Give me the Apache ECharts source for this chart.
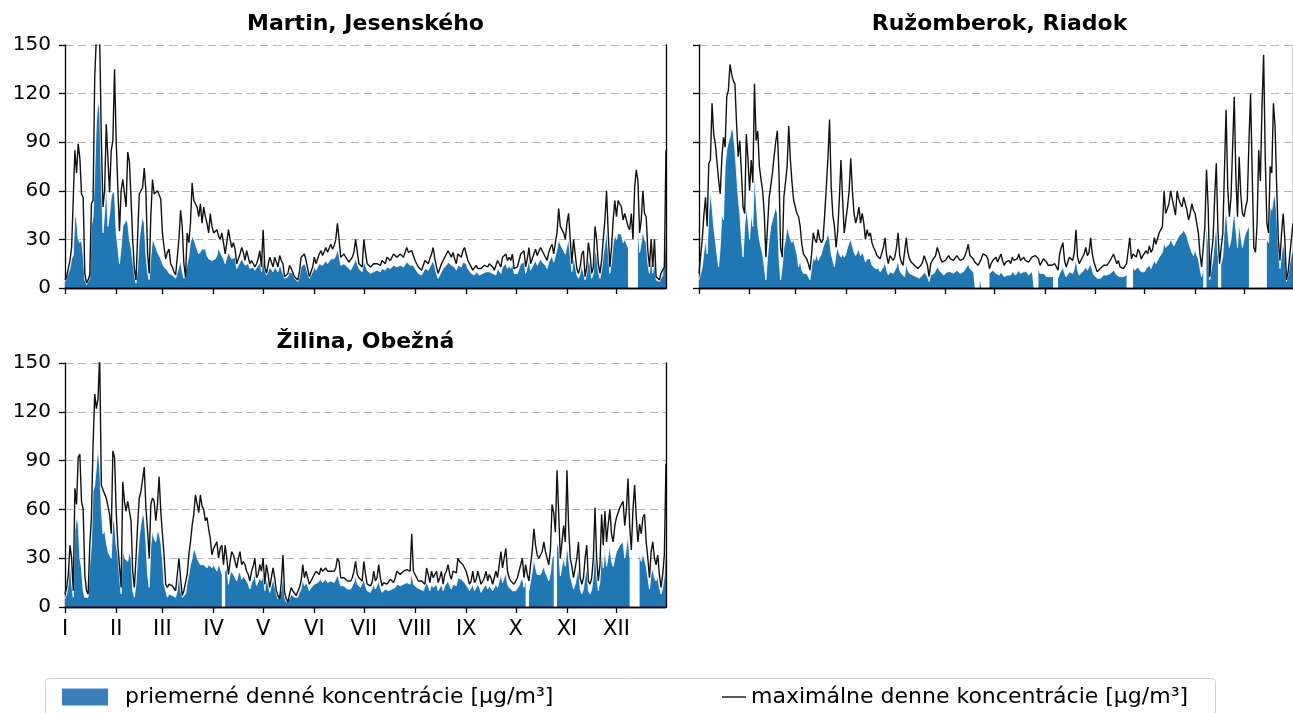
<!DOCTYPE html>
<html>
<head>
<meta charset="utf-8">
<script src="https://cdn.jsdelivr.net/npm/echarts@6/dist/echarts.min.js"></script>
<style>
html,body{margin:0;padding:0;background:#fff;}
#chart{width:1293px;height:713px;}
</style>
</head>
<body>
<div id="chart"></div>
<script>
// ---------- DATA ----------
const stationNames = ['Martin, Jesenského', 'Ružomberok, Riadok', 'Žilina, Obežná'];
const monthLabels = ['I','II','III','IV','V','VI','VII','VIII','IX','X','XI','XII'];
const monthStartDays = [0,31,59,90,120,151,181,212,243,273,304,334];
const yTicks = [0,30,60,90,120,150];
const MEAN_NAME = 'priemerné denné koncentrácie [µg/m³]';
const MAX_NAME = 'maximálne denne koncentrácie [µg/m³]';

// Martin, Jesenského
const martinMean = [
 4,5,9,12,18,20,46,42,30,28,30,20,5,2,3,6,38,44,71,102,116,110,66,34,46,66,38,45,56,60,58,
 34,25,15,25,38,38,42,40,30,25,17,8,3,13,30,38,44,40,21,10,5,19,30,28,25,22,21,18,
 15,13,12,11,9,9,8,7,6,5,13,17,10,6,5,15,20,28,32,30,27,24,21,22,24,25,24,20,18,17,17,
 17,18,20,25,22,20,18,15,19,22,21,18,17,19,12,14,16,18,17,14,15,15,12,13,13,11,12,14,16,10,
 20,11,8,10,13,12,10,13,12,10,14,12,11,6,6,7,10,9,9,6,5,4,7,13,14,15,13,9,6,8,10,
 13,11,13,15,16,14,15,17,15,15,18,17,18,20,24,20,14,15,15,14,13,12,11,13,15,18,19,12,11,10,
 17,14,11,10,9,10,10,10,11,11,10,12,11,11,13,12,12,11,14,13,13,12,14,13,13,12,16,15,14,15,14,
 12,11,9,8,8,10,12,11,11,13,15,17,13,9,6,8,10,12,13,14,16,15,14,15,13,11,14,14,13,16,17,
 15,12,11,9,8,8,10,9,8,9,9,10,10,9,10,10,9,8,8,12,11,9,13,14,15,12,14,12,15,9,
 8,9,12,15,15,16,9,13,17,11,13,15,17,14,14,18,16,15,14,12,16,18,20,16,20,24,30,27,25,24,21,
 26,30,20,10,19,14,8,6,9,14,15,5,9,18,14,6,9,24,20,10,6,11,20,27,36,22,9,16,27,33,
 30,34,35,33,28,30,30,25,null,null,null,null,null,38,22,28,36,30,28,15,9,19,9,18,5,4,4,6,8,9,30
];
const martinMax = [
 5,7,12,17,25,25,85,71,89,80,58,56,9,3,5,8,52,54,130,155,160,155,92,50,60,101,100,59,85,91,135,
 91,62,35,60,67,66,50,84,78,55,30,12,5,32,58,57,62,74,60,22,9,45,67,58,57,60,60,55,
 34,25,18,22,24,15,13,10,8,7,30,48,38,15,7,34,28,40,65,54,52,50,44,52,40,50,44,40,34,46,38,
 34,35,36,32,30,34,28,21,28,36,30,25,28,24,15,18,21,25,22,17,23,19,15,17,16,13,15,18,23,13,
 36,13,9,14,19,16,13,19,16,13,20,17,15,7,8,9,14,12,11,7,6,5,10,19,20,21,17,12,7,10,13,
 19,15,18,21,23,20,21,25,22,21,27,24,26,30,40,30,19,20,21,19,18,16,15,19,22,30,31,15,15,13,
 30,22,15,14,13,14,15,14,15,16,14,17,16,15,19,18,17,16,21,20,19,18,21,20,19,18,25,22,21,23,20,
 17,15,13,12,11,14,17,16,15,18,21,25,18,13,9,12,15,17,19,21,23,21,19,22,18,15,21,20,19,23,25,
 21,17,15,13,11,12,14,12,11,12,13,14,14,13,15,14,13,11,12,17,15,13,19,20,21,17,19,17,21,12,
 11,13,17,21,21,23,13,18,25,15,18,21,24,20,19,25,23,21,19,17,22,25,27,21,28,34,49,38,36,34,30,
 40,46,30,15,30,21,12,9,13,21,23,7,13,28,21,9,13,38,30,15,9,17,30,42,60,34,13,25,42,54,
 44,54,54,50,42,46,46,38,36,46,30,62,73,66,34,42,60,46,44,23,13,30,13,30,7,6,5,9,11,13,85
];

// Ružomberok, Riadok
const ruzomberokMean = [
 5,9,13,22,30,21,46,60,50,38,38,21,13,25,46,42,75,85,90,93,99,96,85,71,56,46,30,19,38,50,42,
 30,46,38,71,54,38,30,25,21,13,5,19,30,38,42,46,50,46,19,5,13,25,30,38,38,30,28,30,
 25,21,13,17,11,9,9,9,7,5,13,19,17,21,17,19,21,25,28,30,34,30,21,17,13,21,25,21,19,21,19,
 21,25,28,30,26,22,20,22,24,20,22,20,16,18,17,18,14,13,12,11,12,10,9,13,16,11,8,10,11,9,
 10,13,17,11,9,8,7,15,11,9,8,8,7,7,6,6,7,8,10,9,7,4,8,9,9,11,13,12,10,9,8,
 9,10,11,10,10,9,10,11,10,9,9,10,11,13,15,12,11,10,9,null,null,5,6,null,null,null,null,9,10,11,
 10,9,8,8,10,9,7,8,8,9,8,10,9,8,9,11,9,8,10,9,10,8,9,10,9,null,null,12,9,8,9,
 8,7,7,7,7,7,null,null,6,9,11,13,9,7,8,10,10,9,12,18,11,8,9,10,11,13,11,12,15,11,8,
 7,6,5,6,7,8,8,8,7,9,10,11,10,8,9,7,8,7,6,8,null,null,null,13,11,10,13,12,10,11,
 10,12,11,14,12,13,17,15,14,19,20,22,28,25,24,27,30,28,26,25,30,32,33,34,36,35,32,28,25,22,20,
 24,20,18,12,7,12,null,38,28,5,12,18,30,40,20,null,15,20,38,50,35,25,30,40,48,36,25,40,32,25,
 30,34,36,38,null,null,null,null,null,null,null,null,null,null,30,28,50,48,55,58,45,25,12,20,28,22,4,8,15,20,25
];
const ruzomberokMax = [
 9,20,30,45,56,38,77,79,114,95,89,89,67,58,80,93,87,118,122,138,132,128,126,102,81,91,71,50,46,95,80,
 60,79,65,126,91,97,75,67,60,46,19,38,56,63,71,81,90,97,71,25,19,56,65,75,100,79,65,54,
 50,46,44,38,27,21,21,18,15,11,21,34,30,28,36,30,28,30,45,62,80,104,63,45,38,25,35,55,79,55,34,
 42,50,60,80,60,46,40,44,50,40,46,40,30,36,32,34,28,25,23,20,21,18,17,25,31,20,15,20,21,17,
 19,25,34,20,16,14,13,31,22,18,16,15,14,13,12,11,14,16,20,17,14,7,15,17,16,20,25,22,18,16,15,
 17,18,20,18,19,17,18,20,19,17,16,18,20,23,27,20,19,18,16,15,14,16,18,21,22,20,18,12,15,17,
 18,19,16,15,21,17,14,16,15,17,15,19,17,16,18,21,17,16,19,17,18,16,17,19,18,20,21,18,14,16,18,
 17,16,14,15,14,13,15,13,11,21,25,28,17,13,16,19,18,17,22,36,19,15,17,18,21,25,20,22,31,21,16,
 13,10,9,12,13,14,15,14,13,17,19,21,18,15,17,13,14,12,11,15,23,31,18,21,20,19,24,22,18,20,
 19,23,21,26,22,24,31,27,26,34,35,38,60,46,45,52,60,55,50,45,60,55,52,50,56,52,48,42,46,52,48,
 46,40,34,21,13,25,38,73,50,7,21,30,56,77,36,15,25,34,73,110,62,44,56,87,118,68,44,81,58,46,
 44,50,54,90,120,71,25,22,40,85,66,112,144,80,40,34,75,71,114,100,63,30,17,34,46,30,5,10,20,30,40
];

// Žilina, Obežná
const zilinaMean = [
 5,8,14,30,14,6,47,55,51,30,24,10,6,5,6,26,38,71,75,86,98,86,60,45,47,40,34,32,30,55,51,
 38,32,18,8,38,30,30,28,34,30,10,6,14,30,43,51,57,55,40,20,12,38,47,42,40,47,45,40,
 30,14,10,6,8,8,7,7,6,10,22,10,6,5,8,15,20,26,30,36,34,30,28,26,27,26,25,24,26,25,24,
 26,24,22,26,24,20,null,22,24,14,20,22,22,18,16,20,22,17,19,18,16,14,11,15,17,20,13,14,18,16,
 20,10,17,14,9,13,17,13,8,5,4,10,20,6,3,2,5,8,7,6,5,6,9,11,17,13,15,13,10,12,13,
 14,15,15,14,17,15,16,17,15,15,16,16,15,17,20,19,13,12,13,12,11,11,11,13,15,19,14,13,12,11,
 17,13,10,10,9,10,14,11,12,16,12,9,10,11,10,10,11,11,10,12,14,14,13,14,14,14,15,15,14,22,14,
 13,12,11,11,11,10,10,15,13,10,14,12,11,14,10,12,14,10,13,14,16,13,11,14,14,13,18,17,17,16,15,
 14,12,10,11,14,10,11,14,12,9,11,12,14,11,13,12,10,12,14,12,16,20,15,18,21,14,12,11,10,9,
 10,11,13,16,18,12,16,null,10,16,22,30,24,20,19,20,21,25,21,19,16,21,30,32,null,40,36,19,25,30,25,
 38,30,19,15,11,14,19,25,11,8,11,19,24,10,8,11,19,38,19,10,16,35,24,36,25,31,38,28,25,30,
 34,36,38,38,40,30,36,45,30,null,null,null,null,null,32,28,33,34,25,18,11,20,24,18,16,19,12,8,12,19,40
];
const zilinaMax = [
 8,12,20,38,30,10,73,63,92,94,65,60,20,10,8,38,55,100,131,122,128,155,75,72,73,67,62,57,45,96,92,
 59,38,38,12,77,65,59,65,59,53,22,12,30,51,67,71,70,86,61,47,30,63,67,65,53,63,80,59,
 45,32,14,12,14,13,13,14,10,20,30,18,7,10,10,20,32,40,50,57,69,69,58,69,62,60,53,55,48,42,32,
 36,38,40,30,36,38,26,38,30,20,28,34,32,28,24,30,34,26,28,26,22,20,16,22,25,30,18,20,26,22,
 30,14,26,20,12,18,24,18,10,7,5,15,32,9,5,3,8,12,10,9,7,8,12,16,26,18,22,18,14,16,18,
 20,22,22,20,24,22,23,24,22,21,22,23,22,24,30,28,18,17,18,17,16,16,16,18,22,28,20,18,17,16,
 28,20,14,15,13,15,22,16,18,26,18,13,15,16,14,15,17,16,15,18,22,21,20,21,22,22,23,24,22,45,22,
 20,18,16,17,16,15,14,24,20,15,22,18,17,22,15,18,22,14,20,22,26,20,17,22,22,21,30,28,28,26,24,
 22,18,14,16,22,15,17,22,18,14,16,18,22,16,20,18,14,18,22,18,26,34,24,30,36,22,18,16,15,14,
 16,18,22,26,30,18,26,20,16,26,35,48,38,32,30,32,34,40,34,30,26,35,63,58,46,84,58,30,40,50,40,
 84,50,30,25,18,24,30,40,18,14,18,30,38,16,14,18,30,61,30,16,26,57,38,59,40,51,60,45,40,50,
 55,58,61,62,65,50,60,79,50,35,60,75,55,40,51,45,55,57,40,30,18,34,40,30,26,32,20,12,20,32,88
];

// ---------- CHART ----------
const meanSeries = [martinMean, ruzomberokMean, zilinaMean];
const maxSeries = [martinMax, ruzomberokMax, zilinaMax];
const dayCount = martinMax.length;
const dayCategories = [];
for (let i = 1; i <= dayCount; i++) dayCategories.push(String(i));

const FONT = '"DejaVu Sans", sans-serif';
const BLUE = '#1f77b4';
const grids = [
  {left: 65, top: 45, width: 601, height: 243},
  {left: 699, top: 45, width: 601, height: 243},
  {left: 65, top: 363, width: 601, height: 244}
];
const showYLabels = [true, false, true];
const showXLabels = [false, false, true];
const isMonthStart = (i) => monthStartDays.indexOf(i) >= 0;
const spine = {color: '#000', width: 1.3};

const xAxes = [], yAxes = [], series = [], graphics = [];
grids.forEach((g, gi) => {
  xAxes.push({
    gridIndex: gi, type: 'category', data: dayCategories, boundaryGap: false, position: 'bottom', z: 3,
    axisLine: {show: true, lineStyle: spine},
    axisTick: {show: true, length: 6, interval: (i) => isMonthStart(i), lineStyle: spine},
    axisLabel: {
      show: showXLabels[gi], interval: (i) => isMonthStart(i),
      formatter: (v, i) => monthLabels[monthStartDays.indexOf(i)] || '',
      fontSize: 21, fontFamily: FONT, color: '#000', margin: 12
    },
    splitLine: {show: false}
  });
  xAxes.push({
    gridIndex: gi, type: 'category', data: dayCategories, boundaryGap: false, position: 'top', z: 3,
    axisLine: {show: true, lineStyle: spine}, axisTick: {show: false}, axisLabel: {show: false}, splitLine: {show: false}
  });
  yAxes.push({
    gridIndex: gi, type: 'value', min: yTicks[0], max: yTicks[yTicks.length - 1], interval: yTicks[1] - yTicks[0],
    position: 'left', z: 1,
    axisLine: {show: true, lineStyle: spine},
    axisTick: {show: true, length: 6, lineStyle: spine},
    axisLabel: {show: showYLabels[gi], fontSize: 20, fontFamily: FONT, color: '#000', margin: 14},
    splitLine: {show: true, lineStyle: {type: [8, 5], color: '#b3b3b3', width: 1}}
  });
  yAxes.push({
    gridIndex: gi, type: 'value', min: yTicks[0], max: yTicks[yTicks.length - 1], interval: yTicks[1] - yTicks[0],
    position: 'right', z: 3,
    axisLine: {show: true, lineStyle: spine}, axisTick: {show: false}, axisLabel: {show: false}, splitLine: {show: false}
  });
  series.push({
    type: 'line', name: MEAN_NAME, xAxisIndex: gi * 2, yAxisIndex: gi * 2,
    data: meanSeries[gi], symbol: 'none', connectNulls: false, z: 2,
    lineStyle: {color: '#ffffff', width: 0.8},
    itemStyle: {color: BLUE},
    areaStyle: {color: BLUE, opacity: 1}
  });
  series.push({
    type: 'line', name: MAX_NAME, xAxisIndex: gi * 2, yAxisIndex: gi * 2,
    data: maxSeries[gi], symbol: 'none', z: 2.5,
    lineStyle: {color: '#111', width: 1.4},
    itemStyle: {color: '#111'}
  });
  graphics.push({
    type: 'text', x: g.left + g.width / 2, y: g.top - 21,
    style: {text: stationNames[gi], align: 'center', verticalAlign: 'middle',
      font: 'bold 22px ' + FONT, fill: '#000'}
  });
});

graphics.push({
  type: 'rect', left: 45, top: 678, z: 0,
  shape: {width: 1170, height: 60, r: 4},
  style: {fill: '#fff', stroke: '#cfcfcf', lineWidth: 1}
});

const chart = echarts.init(document.getElementById('chart'), null, {renderer: 'canvas'});
chart.setOption({
  animation: false,
  backgroundColor: '#fff',
  grid: grids,
  xAxis: xAxes,
  yAxis: yAxes,
  series: series,
  graphic: graphics,
  legend: [
    {
      left: 62, top: 686, padding: 0, itemWidth: 46, itemHeight: 17, selectedMode: false,
      data: [{name: MEAN_NAME, icon: 'rect', itemStyle: {color: '#3a80ba', borderWidth: 0}}],
      textStyle: {fontSize: 22, fontFamily: FONT, color: '#000', padding: [0, 0, 0, 12]}
    },
    {
      left: 722, top: 686, padding: 0, itemWidth: 24, itemHeight: 1.5, selectedMode: false,
      data: [{name: MAX_NAME, icon: 'rect', itemStyle: {color: '#222', borderWidth: 0}}],
      textStyle: {fontSize: 22, fontFamily: FONT, color: '#000'}
    }
  ]
});
</script>
</body>
</html>
